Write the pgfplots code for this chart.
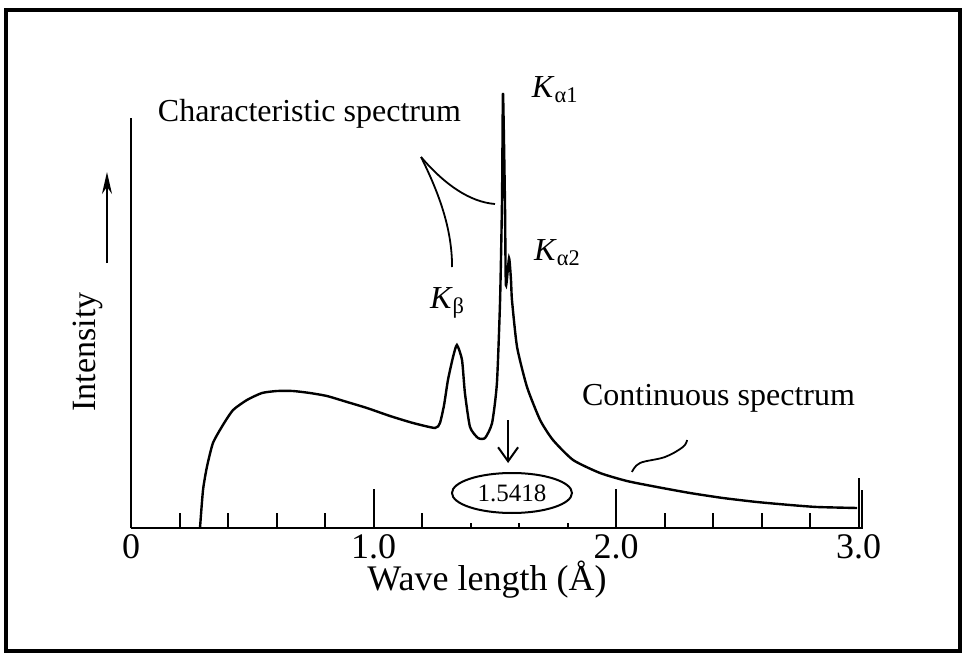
\documentclass[border=0pt]{standalone}
\usepackage{fontspec}
\setmainfont{Liberation Serif}
\usepackage{pgfplots}
\pgfplotsset{compat=1.18}
\usetikzlibrary{arrows.meta}

\begin{document}
\begin{tikzpicture}
\begin{axis}[
  at={(0,0)}, anchor=origin,
  x=121.25bp, y=0.5bp,
  xmin=0, xmax=3.02, ymin=0, ymax=410,
  axis lines=left,
  axis line style={-, line width=1.3bp},
  clip=false,
  ytick=\empty,
  xtick={0,1,2},
  xticklabels={{0},{1.0},{2.0}},
  extra x ticks={3},
  extra x tick labels={{3.0}},
  extra x tick style={major tick length=25bp},
  minor xtick={0.2,0.4,0.6,0.8,1.2,2.2,2.4,2.6,2.8},
  tick align=inside,
  major tick length=19.5bp,
  minor tick length=7.5bp,
  tick style={line width=1bp, black},
  xticklabel style={font=\fontsize{18bp}{20bp}\selectfont},
]
\addplot[black, line width=1.2bp, smooth, tension=0.35] coordinates {
(0.2845,0) (0.297,38) (0.313,61) (0.338,85) (0.379,103) (0.421,118)
(0.478,128) (0.540,135) (0.602,137) (0.668,137) (0.738,135) (0.808,132)
(0.891,126) (0.973,120) (1.068,112) (1.163,105) (1.254,100) (1.274,105)
(1.291,123) (1.307,148) (1.328,171) (1.344,183) (1.365,168) (1.377,135)
(1.398,101) (1.431,90) (1.460,90) (1.489,105) (1.509,145) (1.522,228)
(1.530,328) (1.534,435) (1.542,328) (1.546,243) (1.559,270) (1.567,248)
(1.571,228) (1.592,181) (1.633,141) (1.687,108) (1.740,88) (1.823,68)
(1.934,55) (2.045,47) (2.169,41) (2.305,35) (2.441,30) (2.581,26)
(2.718,23) (2.829,21) (2.994,20)
};
\addplot[black, line width=1bp, ycomb, mark=none] coordinates {(1.4,5) (1.6,5) (1.8,5) (3.015,38)};

% annotations
\node[anchor=base west, font=\fontsize{16bp}{18bp}\selectfont] at (axis cs:0.082,407) {Characteristic spectrum};
\node[anchor=base west, font=\fontsize{16bp}{18bp}\selectfont] at (axis cs:1.624,431) {\textit{K}\textsubscript{α1}};
\node[anchor=base west, font=\fontsize{16bp}{18bp}\selectfont] at (axis cs:1.633,268) {\textit{K}\textsubscript{α2}};
\node[anchor=base west, font=\fontsize{16bp}{18bp}\selectfont] at (axis cs:1.204,220) {\textit{K}\textsubscript{β}};
\node[anchor=base west, font=\fontsize{16bp}{18bp}\selectfont] at (axis cs:1.831,123) {Continuous spectrum};

\draw[black, line width=0.9bp] (axis cs:1.196,371) .. controls (axis cs:1.295,343) and (axis cs:1.398,326) .. (axis cs:1.501,324);
\draw[black, line width=0.9bp] (axis cs:1.196,371) .. controls (axis cs:1.274,333) and (axis cs:1.324,298) .. (axis cs:1.324,261);
\draw[black, line width=0.9bp] plot[smooth, tension=0.6] coordinates {(axis cs:2.066,56) (axis cs:2.099,65) (axis cs:2.202,71) (axis cs:2.276,81) (axis cs:2.293,88)};

\draw[black, line width=1bp] (axis cs:1.571,35) ellipse [x radius=30bp, y radius=10bp];
\node[font=\fontsize{12.5bp}{14bp}\selectfont] at (axis cs:1.571,35) {1.5418};
\draw[-{Straight Barb[length=7bp,width=10bp]}, line width=1bp] (axis cs:1.555,108) -- (axis cs:1.555,65);

\node[rotate=90, font=\fontsize{17bp}{19bp}\selectfont] at (axis cs:-0.177,176) {Intensity};
\draw[-{Stealth[length=11bp,width=5bp]}, line width=1bp] (axis cs:-0.099,265) -- (axis cs:-0.099,356);
\node[font=\fontsize{18bp}{20bp}\selectfont] at (axis cs:1.468,-52) {Wave length (Å)};
\end{axis}
\draw[line width=2.2bp] (-62.5bp,-61.5bp) rectangle (414.5bp,259bp);
\pgfresetboundingbox
\useasboundingbox (-65.5bp,-63.5bp) rectangle (416.5bp,264bp);
\end{tikzpicture}
\end{document}
